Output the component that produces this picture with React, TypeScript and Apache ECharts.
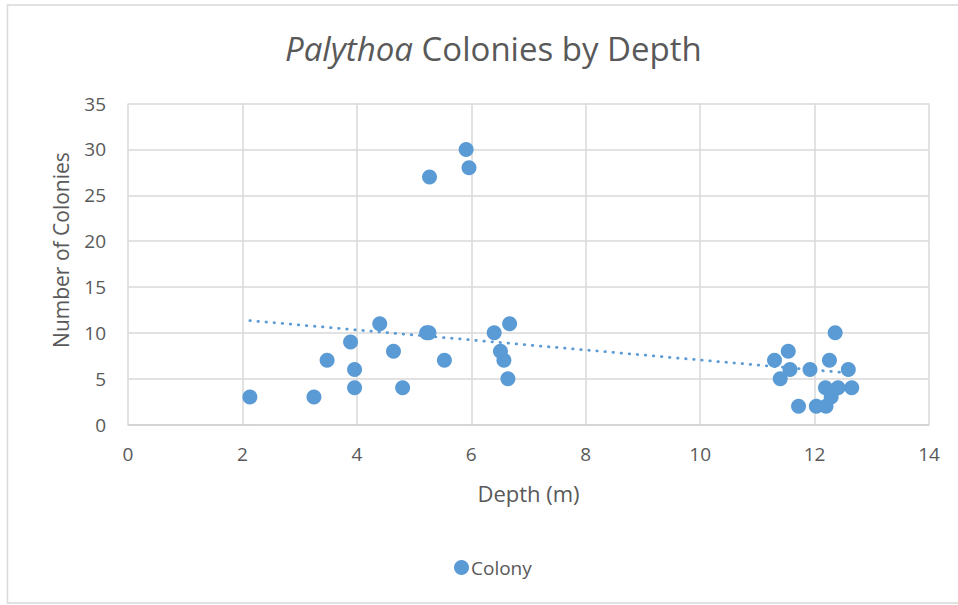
import React, { useEffect, useRef } from "react";
import * as echarts from "echarts";

const depth = [
  2.13, 3.25, 3.48, 3.89, 3.96, 3.96, 4.4, 4.64, 4.8, 5.27, 5.22, 5.26, 5.53,
  5.91, 5.96, 6.4, 6.51, 6.57, 6.64, 6.67, 12.36, 11.54, 11.3, 12.26, 11.57,
  11.92, 12.59, 11.4, 12.19, 12.41, 12.65, 12.29, 11.72, 12.03, 12.2,
];
const colonies = [
  3, 3, 7, 9, 6, 4, 11, 8, 4, 27, 10, 10, 7, 30, 28, 10, 8, 7, 5, 11, 10, 8,
  7, 7, 6, 6, 6, 5, 4, 4, 4, 3, 2, 2, 2,
];
const seriesName = "Colony";
const titleItalic = "Palythoa";
const titleRest = " Colonies by Depth";
const xName = "Depth (m)";
const yName = "Number of Colonies";

function linearFit(xs: number[], ys: number[]) {
  const n = xs.length;
  const mx = xs.reduce((a, b) => a + b, 0) / n;
  const my = ys.reduce((a, b) => a + b, 0) / n;
  let sxy = 0;
  let sxx = 0;
  for (let i = 0; i < n; i++) {
    sxy += (xs[i] - mx) * (ys[i] - my);
    sxx += (xs[i] - mx) * (xs[i] - mx);
  }
  const slope = sxy / sxx;
  return { slope, intercept: my - slope * mx };
}

export default function App() {
  const ref = useRef<HTMLDivElement>(null);
  useEffect(() => {
    if (!ref.current) return;
    const chart = echarts.init(ref.current, null, { renderer: "svg" });
    const pts = depth.map((d, i) => [d, colonies[i]]);
    const fit = linearFit(depth, colonies);
    const x0 = Math.min(...depth);
    const x1 = Math.max(...depth);
    const trend = [
      [x0, fit.intercept + fit.slope * x0],
      [x1, fit.intercept + fit.slope * x1],
    ];
    const font = "'Open Sans', 'Liberation Sans', sans-serif";
    const textColor = "#595959";
    chart.setOption({
      animation: false,
      backgroundColor: "#ffffff",
      textStyle: { fontFamily: font },
      title: {
        text: `{i|${titleItalic}}{n|${titleRest}}`,
        left: 280,
        top: 27,
        textStyle: {
          fontWeight: "normal",
          fontSize: 33,
          rich: {
            i: { fontFamily: font, fontStyle: "italic", fontWeight: "normal", fontSize: 33, color: textColor },
            n: { fontFamily: font, fontWeight: "normal", fontSize: 33, color: textColor },
          },
        },
      },
      graphic: [
        {
          type: "rect",
          shape: { x: 7.5, y: 5, width: 970, height: 598 },
          style: { fill: "none", stroke: "#d9d9d9", lineWidth: 1.5 },
          silent: true,
          z: -1,
        },
      ],
      grid: { left: 128, right: 29, top: 103.6, bottom: 180.5, containLabel: false },
      xAxis: {
        type: "value",
        min: 0,
        max: 14,
        interval: 2,
        name: xName,
        nameLocation: "middle",
        nameGap: 57,
        nameTextStyle: { fontFamily: font, fontSize: 22, color: textColor },
        axisLine: { show: true, onZero: false, lineStyle: { color: "#d0d0d0", width: 1.5 } },
        axisTick: { show: false },
        axisLabel: { fontFamily: font, fontSize: 19, color: textColor, margin: 20 },
        splitLine: { show: true, lineStyle: { color: "#d9d9d9", width: 1.5 } },
      },
      yAxis: {
        type: "value",
        min: 0,
        max: 35,
        interval: 5,
        name: yName,
        nameLocation: "middle",
        nameGap: 57,
        nameTextStyle: { fontFamily: font, fontSize: 21, color: textColor, padding: [0, 0, 0, 28] },
        axisLine: { show: false },
        axisTick: { show: false },
        axisLabel: { fontFamily: font, fontSize: 19, color: textColor, margin: 22 },
        splitLine: { show: true, lineStyle: { color: "#d9d9d9", width: 1.5 } },
      },
      legend: {
        data: [{ name: seriesName, icon: "circle" }],
        left: 449,
        top: 553,
        itemWidth: 15,
        itemHeight: 15,
        itemGap: 5,
        textStyle: { fontFamily: font, fontSize: 19, color: textColor, padding: [0, 0, 0, -3] },
      },
      series: [
        {
          name: seriesName,
          type: "scatter",
          data: pts,
          symbol: "circle",
          symbolSize: 15,
          itemStyle: { color: "#5b9bd5", opacity: 1 },
          z: 3,
        },
        {
          name: "trend",
          type: "line",
          data: trend,
          symbol: "none",
          silent: true,
          lineStyle: { color: "#5b9bd5", width: 2.75, type: [0.5, 7.6], cap: "round" },
          z: 2,
        },
      ],
    });
    return () => chart.dispose();
  }, []);
  return (
    <div
      ref={ref}
      style={{ position: "fixed", left: 0, top: 0, width: 958, height: 605 }}
    />
  );
}
